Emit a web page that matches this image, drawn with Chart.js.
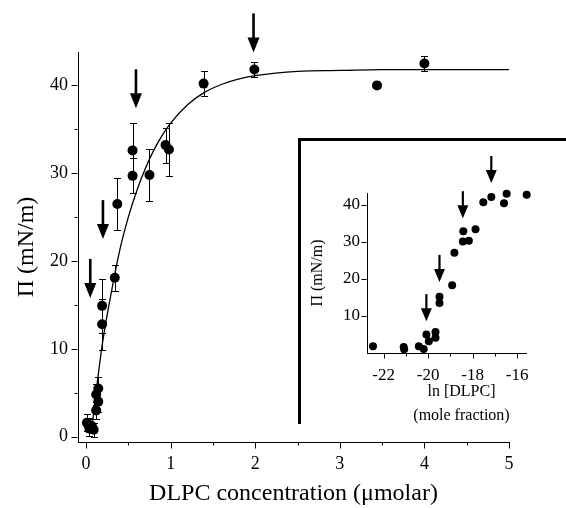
<!DOCTYPE html>
<html>
<head>
<meta charset="utf-8">
<script src="https://cdn.jsdelivr.net/npm/chart.js@4.4.1/dist/chart.umd.min.js"></script>
<style>
  body { margin: 0; background: #fff; }
  #wrap { position: relative; width: 566px; height: 508px; overflow: hidden; }
  #canv { position: absolute; left: 0; top: 0; }
  #frame { position: absolute; left: 298px; top: 138px; width: 280px; height: 283px; border-top: 3px solid #000; border-left: 3px solid #000; }
  #inset { position: absolute; left: 300px; top: 140px; }
</style>
</head>
<body>
<div id="wrap">
  <canvas id="canv" width="566" height="508"></canvas>
  <div id="frame"></div>
  <canvas id="inset" width="266" height="290"></canvas>
</div>
<script>
// main plot: surface pressure vs DLPC concentration
const conc  = [0.01, 0.03, 0.04, 0.07, 0.09, 0.12, 0.12, 0.145, 0.145, 0.19, 0.19, 0.34, 0.37, 0.55, 0.55, 0.75, 0.94, 0.98, 1.39, 1.99, 3.44, 4.0]
const pi    = [1.6, 1.3, 0.9, 1.2, 0.8, 4.8, 3.0, 5.5, 4.0, 14.9, 12.8, 18.1, 26.5, 32.6, 29.7, 29.8, 33.2, 32.7, 40.2, 41.8, 40.0, 42.5]
const piErr = [1.0, 0.8, 0.8, 0.8, 0.8, 1.2, 1.0, 1.3, 1.2, 3.1, 2.9, 1.5, 3.0, 3.1, 2.0, 3.0, 2.0, 3.0, 1.4, 0.9, 0.3, 0.9]

// fitted curve
const fitC  = [0.06, 0.1, 0.15, 0.2, 0.3, 0.4, 0.5, 0.6, 0.7, 0.8, 0.9, 1.0, 1.2, 1.4, 1.6, 1.8, 2.0, 2.5, 3.0, 3.5, 4.0, 4.5, 5.0]
const fitPi = [0.3, 3.5, 7.5, 11, 16.5, 21.3, 25, 28, 30.5, 32.6, 34.3, 35.7, 37.8, 39.2, 40.1, 40.7, 41.1, 41.6, 41.7, 41.8, 41.8, 41.8, 41.8]

const arrowC  = [0.05, 0.2, 0.59, 1.98]
const arrowPi = [15.8, 22.5, 37.4, 43.75]

const xTicks = [0, 1, 2, 3, 4, 5]
const yTicks = [0, 10, 20, 30, 40]

// inset: same data vs ln of mole fraction
const lnX  = [-22.48, -21.1, -21.08, -20.42, -20.2, -20.08, -19.97, -19.67, -19.67, -19.49, -19.49, -18.92, -18.82, -18.44, -18.42, -18.17, -17.87, -17.52, -17.16, -16.59, -16.47, -15.57, -15.55]
const lnPi = [1.8, 1.6, 1.0, 1.8, 1.1, 5.0, 3.2, 5.7, 4.1, 15.2, 13.5, 18.3, 27.1, 30.1, 32.9, 30.3, 33.4, 40.7, 42.1, 40.4, 43.0, 42.7, 42.4]

const arrowLn   = [-20.08, -19.49, -18.44, -17.16]
const arrowLnPi = [8.6, 19.2, 36.4, 45.9]

const lnTicks   = [-22, -20, -18, -16]
const lnPiTicks = [10, 20, 30, 40]

const xTitle = "DLPC concentration (\u03bcmolar)"
const yTitle = "\u03a0 (mN/m)"
const insetXTitle = ["ln [DLPC]", "(mole fraction)"]

const serif = "'Liberation Serif', 'Times New Roman', serif"

Chart.defaults.font.family = serif
Chart.defaults.color = "#000"

function mids(arr){
  let out = []
  for (let i = 0; i < arr.length - 1; i++) out.push((arr[i] + arr[i+1]) / 2)
  return out
}

// tick marks drawn by hand so minor ticks can be shorter
const tickMarks = {
  id: "tickMarks",
  afterDraw(chart, args, o){
    const ctx = chart.ctx
    const xs = chart.scales.x, ys = chart.scales.y
    ctx.save()
    ctx.strokeStyle = "#000"
    ctx.lineWidth = 1
    ctx.beginPath()
    const yb = Math.round(ys.bottom) + 0.5
    for (const v of o.xMajor){
      const px = Math.round(xs.getPixelForValue(v)) + 0.5
      ctx.moveTo(px, yb); ctx.lineTo(px, yb + o.major)
    }
    for (const v of o.xMinor){
      const px = Math.round(xs.getPixelForValue(v)) + 0.5
      ctx.moveTo(px, yb); ctx.lineTo(px, yb + o.minor)
    }
    const xl = Math.round(xs.left) - 0.5
    for (const v of o.yMajor){
      const py = Math.round(ys.getPixelForValue(v)) + 0.5
      ctx.moveTo(xl, py); ctx.lineTo(xl - o.major, py)
    }
    for (const v of o.yMinor){
      const py = Math.round(ys.getPixelForValue(v)) + 0.5
      ctx.moveTo(xl, py); ctx.lineTo(xl - o.minor, py)
    }
    ctx.stroke()
    ctx.restore()
  }
}

// downward arrows, tip placed at a data value
const arrows = {
  id: "arrows",
  afterDraw(chart, args, o){
    const ctx = chart.ctx
    const xs = chart.scales.x, ys = chart.scales.y
    ctx.save()
    ctx.fillStyle = "#000"
    ctx.strokeStyle = "#000"
    ctx.lineWidth = o.shaft
    for (let i = 0; i < o.x.length; i++){
      const px = xs.getPixelForValue(o.x[i])
      const tip = ys.getPixelForValue(o.y[i])
      ctx.beginPath()
      ctx.moveTo(px, tip - o.len)
      ctx.lineTo(px, tip - o.head + 2)
      ctx.stroke()
      ctx.beginPath()
      ctx.moveTo(px - o.width / 2, tip - o.head)
      ctx.lineTo(px + o.width / 2, tip - o.head)
      ctx.lineTo(px, tip)
      ctx.closePath()
      ctx.fill()
    }
    ctx.restore()
  }
}

// vertical error bars for the main scatter
const errorBars = {
  id: "errorBars",
  beforeDatasetsDraw(chart){
    const ctx = chart.ctx
    const ys = chart.scales.y
    const meta = chart.getDatasetMeta(1)
    ctx.save()
    ctx.strokeStyle = "#000"
    ctx.lineWidth = 1
    ctx.beginPath()
    meta.data.forEach((pt, i) => {
      const px = Math.round(pt.x) + 0.5
      const top = Math.round(ys.getPixelForValue(pi[i] + piErr[i])) + 0.5
      const bot = Math.round(ys.getPixelForValue(pi[i] - piErr[i])) + 0.5
      ctx.moveTo(px, top); ctx.lineTo(px, bot)
      ctx.moveTo(px - 3.5, top); ctx.lineTo(px + 3.5, top)
      ctx.moveTo(px - 3.5, bot); ctx.lineTo(px + 3.5, bot)
    })
    ctx.stroke()
    ctx.restore()
  }
}

// two-line x label of the inset
const insetLabel = {
  id: "insetLabel",
  afterDraw(chart){
    const ctx = chart.ctx
    const a = chart.chartArea
    ctx.save()
    ctx.fillStyle = "#000"
    ctx.font = "16px " + serif
    ctx.textAlign = "center"
    ctx.textBaseline = "alphabetic"
    const cx = (a.left + a.right) / 2 + 15
    ctx.fillText(insetXTitle[0], cx, a.bottom + 43)
    ctx.fillText(insetXTitle[1], cx, a.bottom + 67)
    ctx.restore()
  }
}

new Chart(document.getElementById("canv"), {
  type: "scatter",
  data: {
    datasets: [
      {
        type: "line",
        data: fitC.map((c, i) => ({x: c, y: fitPi[i]})),
        borderColor: "#000",
        borderWidth: 1.3,
        pointRadius: 0,
        cubicInterpolationMode: "monotone",
        fill: false
      },
      {
        data: conc.map((c, i) => ({x: c, y: pi[i]})),
        backgroundColor: "#000",
        borderColor: "#000",
        pointRadius: 5,
        pointBorderWidth: 0,
        clip: false
      }
    ]
  },
  options: {
    responsive: false,
    animation: false,
    layout: { padding: { left: 0, right: 57, top: 52, bottom: 0 } },
    plugins: {
      legend: { display: false },
      tooltip: { enabled: false },
      tickMarks: { xMajor: xTicks, xMinor: mids(xTicks), yMajor: yTicks, yMinor: mids(yTicks), major: 6, minor: 3 },
      arrows: { x: arrowC, y: arrowPi, len: 39, head: 15, width: 12, shaft: 2.6 }
    },
    scales: {
      x: {
        type: "linear",
        min: -0.095,
        max: 5,
        afterBuildTicks: s => { s.ticks = xTicks.map(v => ({value: v})) },
        afterFit: s => { s.height = 66 },
        grid: { display: false, drawTicks: true, tickLength: 6 },
        border: { display: true, color: "#000", width: 1 },
        ticks: { font: { size: 18 }, padding: 5, maxRotation: 0, includeBounds: false },
        title: { display: true, text: xTitle, font: { size: 24 }, padding: { top: 0, bottom: 0 } }
      },
      y: {
        type: "linear",
        min: -0.6,
        max: 43.8,
        afterBuildTicks: s => { s.ticks = yTicks.map(v => ({value: v})) },
        afterFit: s => { s.width = 78 },
        grid: { display: false, drawTicks: true, tickLength: 6 },
        border: { display: true, color: "#000", width: 1 },
        ticks: { font: { size: 18 }, padding: 4, includeBounds: false },
        title: { display: true, text: yTitle, font: { size: 24 }, padding: { top: 12, bottom: 0 } }
      }
    }
  },
  plugins: [errorBars, tickMarks, arrows]
})

new Chart(document.getElementById("inset"), {
  type: "scatter",
  data: {
    datasets: [{
      data: lnX.map((v, i) => ({x: v, y: lnPi[i]})),
      backgroundColor: "#000",
      borderColor: "#000",
      pointRadius: 4,
      pointBorderWidth: 0,
      clip: false
    }]
  },
  options: {
    responsive: false,
    animation: false,
    layout: { padding: { left: 0, right: 40, top: 53, bottom: 0 } },
    plugins: {
      legend: { display: false },
      tooltip: { enabled: false },
      tickMarks: { xMajor: lnTicks, xMinor: mids(lnTicks), yMajor: lnPiTicks, yMinor: [], major: 5, minor: 3 },
      arrows: { x: arrowLn, y: arrowLnPi, len: 27, head: 13, width: 11, shaft: 2.2 }
    },
    scales: {
      x: {
        type: "linear",
        min: -22.75,
        max: -15.6,
        afterBuildTicks: s => { s.ticks = lnTicks.map(v => ({value: v})) },
        afterFit: s => { s.height = 77 },
        grid: { display: false, drawTicks: true, tickLength: 5 },
        border: { display: true, color: "#000", width: 1 },
        ticks: { font: { size: 17 }, padding: 7, maxRotation: 0, includeBounds: false }
      },
      y: {
        type: "linear",
        min: 0,
        max: 43.2,
        afterBuildTicks: s => { s.ticks = lnPiTicks.map(v => ({value: v})) },
        afterFit: s => { s.width = 67 },
        grid: { display: false, drawTicks: true, tickLength: 5 },
        border: { display: true, color: "#000", width: 1 },
        ticks: { font: { size: 17 }, padding: 2, includeBounds: false },
        title: { display: true, text: yTitle, font: { size: 16 }, padding: { top: 8, bottom: 0 } }
      }
    }
  },
  plugins: [tickMarks, arrows, insetLabel]
})
</script>
</body>
</html>
